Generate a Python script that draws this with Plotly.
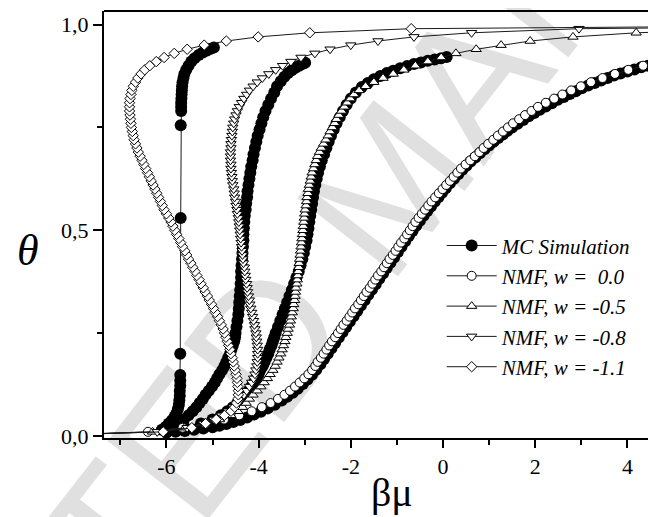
import plotly.graph_objects as go

# ---------------- data ----------------
# NMF curves share a uniform theta grid (coverage)
THETA = [0.005, 0.01, 0.02, 0.03, 0.04, 0.05, 0.06, 0.07, 0.08, 0.09, 0.10,
         0.11, 0.12, 0.13, 0.14, 0.15, 0.16, 0.17, 0.18, 0.19, 0.20,
         0.21, 0.22, 0.23, 0.24, 0.25, 0.26, 0.27, 0.28, 0.29, 0.30,
         0.31, 0.32, 0.33, 0.34, 0.35, 0.36, 0.37, 0.38, 0.39, 0.40,
         0.41, 0.42, 0.43, 0.44, 0.45, 0.46, 0.47, 0.48, 0.49, 0.50,
         0.51, 0.52, 0.53, 0.54, 0.55, 0.56, 0.57, 0.58, 0.59, 0.60,
         0.61, 0.62, 0.63, 0.64, 0.65, 0.66, 0.67, 0.68, 0.69, 0.70,
         0.71, 0.72, 0.73, 0.74, 0.75, 0.76, 0.77, 0.78, 0.79, 0.80,
         0.81, 0.82, 0.83, 0.84, 0.85, 0.86, 0.87, 0.88, 0.89, 0.90,
         0.91, 0.92, 0.93, 0.94, 0.95, 0.96, 0.97, 0.98, 0.99, 0.995]

NMF_W00_X = [-7.7, -6.40, -5.65, -5.15, -4.75, -4.42, -4.15, -3.93, -3.74, -3.58, -3.44,
             -3.32, -3.21, -3.11, -3.01, -2.92, -2.84, -2.77, -2.72, -2.65, -2.59,
             -2.53, -2.47, -2.41, -2.34, -2.28, -2.22, -2.16, -2.09, -2.03, -1.97,
             -1.91, -1.84, -1.78, -1.72, -1.66, -1.59, -1.53, -1.47, -1.41, -1.34,
             -1.28, -1.22, -1.16, -1.09, -1.03, -0.97, -0.91, -0.84, -0.78, -0.72,
             -0.66, -0.60, -0.53, -0.46, -0.39, -0.32, -0.25, -0.17, -0.09, -0.01,
             0.07, 0.15, 0.23, 0.31, 0.39, 0.49, 0.59, 0.69, 0.79, 0.88,
             0.98, 1.09, 1.19, 1.30, 1.41, 1.52, 1.65, 1.78, 1.92, 2.06,
             2.23, 2.41, 2.59, 2.78, 2.99, 3.21, 3.46, 3.73, 4.02, 4.34,
             4.70, 5.10]

NMF_W05_X = [-7.6, -6.30, -5.60, -5.15, -4.85, -4.60, -4.45, -4.35, -4.27, -4.20, -4.12,
             -4.03, -3.95, -3.88, -3.81, -3.75, -3.69, -3.64, -3.60, -3.56, -3.52,
             -3.49, -3.46, -3.43, -3.41, -3.38, -3.36, -3.33, -3.31, -3.29, -3.27,
             -3.25, -3.24, -3.22, -3.21, -3.20, -3.19, -3.17, -3.16, -3.15, -3.14,
             -3.13, -3.12, -3.11, -3.10, -3.09, -3.08, -3.07, -3.06, -3.05, -3.04,
             -3.03, -3.02, -3.01, -3.00, -2.99, -2.97, -2.96, -2.95, -2.93, -2.92,
             -2.90, -2.88, -2.86, -2.84, -2.81, -2.78, -2.75, -2.72, -2.68, -2.64,
             -2.59, -2.54, -2.49, -2.45, -2.40, -2.35, -2.31, -2.26, -2.20, -2.14,
             -2.08, -2.01, -1.93, -1.82, -1.68, -1.50, -1.30, -1.08, -0.85, -0.60,
             -0.33, -0.04, 0.28, 0.72, 1.26, 1.89, 2.82, 4.19, 6.80]

NMF_W08_X = [-7.5, -6.20, -5.55, -5.20, -4.97, -4.80, -4.66, -4.55, -4.46, -4.39, -4.32,
             -4.26, -4.20, -4.15, -4.11, -4.08, -4.06, -4.04, -4.03, -4.02, -4.02,
             -4.02, -4.03, -4.04, -4.05, -4.06, -4.08, -4.09, -4.11, -4.13, -4.15,
             -4.17, -4.19, -4.20, -4.22, -4.24, -4.25, -4.26, -4.28, -4.29, -4.30,
             -4.31, -4.33, -4.34, -4.35, -4.36, -4.37, -4.38, -4.39, -4.40, -4.41,
             -4.42, -4.43, -4.44, -4.46, -4.47, -4.49, -4.50, -4.52, -4.53, -4.54,
             -4.56, -4.57, -4.58, -4.59, -4.60, -4.60, -4.61, -4.61, -4.61, -4.60,
             -4.60, -4.59, -4.58, -4.57, -4.56, -4.54, -4.52, -4.49, -4.46, -4.42,
             -4.37, -4.32, -4.26, -4.20, -4.12, -4.03, -3.92, -3.78, -3.63, -3.48,
             -3.30, -3.08, -2.78, -2.45, -2.00, -1.41, -0.63, 0.62, 2.95, 8.0]

NMF_W11_X = [-7.6, -6.07, -5.45, -5.15, -4.92, -4.74, -4.60, -4.52, -4.48, -4.45, -4.44,
             -4.44, -4.45, -4.46, -4.47, -4.49, -4.51, -4.53, -4.55, -4.57, -4.60,
             -4.62, -4.65, -4.68, -4.71, -4.74, -4.77, -4.81, -4.85, -4.89, -4.94,
             -4.98, -5.02, -5.07, -5.11, -5.16, -5.20, -5.25, -5.29, -5.34, -5.38,
             -5.43, -5.47, -5.52, -5.56, -5.60, -5.65, -5.69, -5.73, -5.78, -5.82,
             -5.86, -5.90, -5.95, -6.00, -6.05, -6.09, -6.13, -6.17, -6.21, -6.25,
             -6.29, -6.33, -6.37, -6.41, -6.45, -6.49, -6.53, -6.57, -6.61, -6.64,
             -6.67, -6.70, -6.72, -6.74, -6.76, -6.77, -6.78, -6.79, -6.80, -6.80,
             -6.80, -6.79, -6.77, -6.75, -6.72, -6.67, -6.62, -6.55, -6.47, -6.36,
             -6.22, -6.05, -5.83, -5.55, -5.18, -4.70, -4.01, -2.89, -0.69, 5.5]

# Monte Carlo simulation results (beta*mu, theta), one run per w
MC_W00_X = [-6.0, -5.8, -5.6, -5.4, -5.2, -5.0, -4.85, -4.7, -4.55, -4.4, -4.25, -4.1,
            -3.95, -3.8, -3.65, -3.5, -3.38, -3.26, -3.15, -3.04, -2.94, -2.84, -2.75,
            -2.66, -2.58, -2.5, -2.42, -2.34, -2.26, -2.18, -2.1, -2.02, -1.94, -1.86,
            -1.78, -1.7, -1.62, -1.54, -1.46, -1.38, -1.3, -1.22, -1.14, -1.06, -0.98,
            -0.9, -0.82, -0.74, -0.66, -0.58, -0.5, -0.42, -0.34, -0.26, -0.18, -0.1,
            -0.02, 0.06, 0.15, 0.24, 0.33, 0.42, 0.51, 0.6, 0.7, 0.8, 0.9, 1.0, 1.1,
            1.2, 1.3, 1.4, 1.5, 1.62, 1.74, 1.86, 1.98, 2.1, 2.23, 2.36, 2.49, 2.62,
            2.75, 2.88, 3.01, 3.15, 3.29, 3.43, 3.57, 3.71, 3.85, 4.0, 4.15, 4.3, 4.45,
            4.6, 4.75, 4.9]
MC_W00_Y = [0.008, 0.010, 0.012, 0.015, 0.018, 0.021, 0.025, 0.029, 0.034, 0.039, 0.045,
            0.052, 0.059, 0.067, 0.076, 0.086, 0.095, 0.105, 0.115, 0.126, 0.137, 0.149,
            0.161, 0.174, 0.187, 0.200, 0.213, 0.226, 0.239, 0.252, 0.265, 0.278, 0.291,
            0.304, 0.317, 0.330, 0.343, 0.356, 0.369, 0.382, 0.395, 0.408, 0.421, 0.434,
            0.447, 0.460, 0.473, 0.486, 0.498, 0.511, 0.523, 0.535, 0.547, 0.558, 0.569,
            0.580, 0.591, 0.602, 0.614, 0.625, 0.636, 0.647, 0.657, 0.667, 0.677, 0.687,
            0.697, 0.706, 0.715, 0.724, 0.733, 0.742, 0.750, 0.759, 0.768, 0.777, 0.785,
            0.793, 0.801, 0.809, 0.817, 0.824, 0.831, 0.838, 0.845, 0.852, 0.858, 0.864,
            0.870, 0.876, 0.881, 0.886, 0.891, 0.896, 0.900, 0.904, 0.908, 0.912]

MC_W05_X = [-5.6, -5.25, -5.0, -4.82, -4.68, -4.56, -4.46, -4.37, -4.29, -4.22, -4.16,
            -4.1, -4.05, -4.0, -3.96, -3.91, -3.87, -3.83, -3.79, -3.76, -3.72, -3.69,
            -3.66, -3.63, -3.58, -3.53, -3.48, -3.43, -3.38, -3.33, -3.28, -3.23, -3.18,
            -3.13, -3.09, -3.05, -3.02, -2.99, -2.96, -2.94, -2.92, -2.9, -2.88, -2.86,
            -2.84, -2.82, -2.8, -2.77, -2.74, -2.71, -2.67, -2.63, -2.58, -2.53, -2.48,
            -2.43, -2.37, -2.31, -2.24, -2.17, -2.09, -2.0, -1.89, -1.76, -1.63, -1.5,
            -1.36, -1.22, -1.08, -0.93, -0.78, -0.63, -0.48, -0.33, -0.18, -0.04, 0.08]
MC_W05_Y = [0.02, 0.03, 0.04, 0.05, 0.06, 0.07, 0.08, 0.09, 0.10, 0.11, 0.12, 0.13,
            0.14, 0.15, 0.16, 0.17, 0.18, 0.19, 0.20, 0.21, 0.22, 0.23, 0.24, 0.25,
            0.265, 0.28, 0.295, 0.31, 0.325, 0.34, 0.355, 0.37, 0.385, 0.40, 0.415,
            0.43, 0.445, 0.46, 0.475, 0.49, 0.505, 0.52, 0.535, 0.55, 0.565, 0.58,
            0.595, 0.61, 0.625, 0.64, 0.655, 0.67, 0.685, 0.70, 0.715, 0.73, 0.745,
            0.76, 0.775, 0.79, 0.805, 0.82, 0.835, 0.848, 0.858, 0.867, 0.875, 0.882,
            0.888, 0.894, 0.899, 0.904, 0.908, 0.912, 0.915, 0.918, 0.921]

MC_W08_X = [-5.95, -5.76, -5.62, -5.52, -5.43, -5.35, -5.28, -5.21, -5.15, -5.08, -5.01,
            -4.95, -4.9, -4.85, -4.79, -4.74, -4.7, -4.66, -4.62, -4.59, -4.56, -4.53,
            -4.51, -4.5, -4.48, -4.46, -4.44, -4.43, -4.42, -4.41, -4.4, -4.39, -4.38,
            -4.38, -4.37, -4.36, -4.35, -4.34, -4.33, -4.33, -4.32, -4.31, -4.3, -4.28,
            -4.27, -4.25, -4.24, -4.22, -4.2, -4.18, -4.16, -4.13, -4.11, -4.08, -4.05,
            -4.02, -3.98, -3.94, -3.9, -3.85, -3.79, -3.73, -3.66, -3.6, -3.52, -3.44,
            -3.36, -3.28, -3.2, -3.12, -3.05, -2.99]
MC_W08_Y = [0.02, 0.03, 0.04, 0.05, 0.06, 0.07, 0.08, 0.09, 0.10, 0.11, 0.12, 0.13,
            0.14, 0.15, 0.16, 0.17, 0.18, 0.19, 0.20, 0.21, 0.22, 0.23, 0.24, 0.25,
            0.265, 0.28, 0.295, 0.31, 0.325, 0.34, 0.355, 0.37, 0.385, 0.40, 0.415,
            0.43, 0.445, 0.46, 0.475, 0.49, 0.505, 0.52, 0.535, 0.55, 0.565, 0.58,
            0.595, 0.61, 0.625, 0.64, 0.655, 0.67, 0.685, 0.70, 0.715, 0.73, 0.745,
            0.76, 0.775, 0.79, 0.805, 0.82, 0.835, 0.85, 0.862, 0.873, 0.882, 0.889,
            0.895, 0.90, 0.904, 0.907]

MC_W11_X = [-6.10, -6.02, -5.95, -5.88, -5.82, -5.78, -5.75, -5.73, -5.72, -5.71, -5.71,
            -5.70, -5.70, -5.70, -5.70, -5.69, -5.69, -5.68, -5.68, -5.68, -5.675, -5.67,
            -5.665, -5.66, -5.65, -5.63, -5.61, -5.57, -5.52, -5.46, -5.39, -5.30, -5.21,
            -5.12, -5.04, -4.97]
MC_W11_Y = [0.015, 0.022, 0.030, 0.038, 0.047, 0.056, 0.066, 0.076, 0.087, 0.098, 0.110,
            0.122, 0.135, 0.148, 0.200, 0.530, 0.755, 0.790, 0.800, 0.810, 0.820, 0.830,
            0.840, 0.850, 0.860, 0.870, 0.880, 0.890, 0.900, 0.910, 0.918, 0.926, 0.932,
            0.937, 0.941, 0.944]

SERIES_NAMES = ["<i>MC Simulation</i>",
                "<i>NMF, w =\u00a0\u00a00.0</i>",
                "<i>NMF, w = -0.5</i>",
                "<i>NMF, w = -0.8</i>",
                "<i>NMF, w = -1.1</i>"]

X_TICK_VALS = [-6, -4, -2, 0, 2, 4]
X_TICK_TEXT = ["-6", "-4", "-2", "0", "2", "4"]
X_MINOR_VALS = [-7, -5, -3, -1, 1, 3]
Y_TICK_VALS = [0.0, 0.5, 1.0]
Y_TICK_TEXT = ["0,0", "0,5", "1,0"]
Y_MINOR_VALS = [0.25, 0.75]

# ---------------- figure ----------------
SERIF = "Liberation Serif"
LINE_COL = "#1a1a1a"

fig = go.Figure()

mc_sets = [(MC_W11_X, MC_W11_Y), (MC_W08_X, MC_W08_Y),
           (MC_W05_X, MC_W05_Y), (MC_W00_X, MC_W00_Y)]
for i, (mx, my) in enumerate(mc_sets):
    fig.add_trace(go.Scatter(
        x=mx, y=my, mode="lines+markers",
        name=SERIES_NAMES[0], legendgroup="mc", showlegend=(i == 0),
        line=dict(color=LINE_COL, width=1),
        marker=dict(symbol="circle", size=12, color="black",
                    line=dict(width=0))))

nmf_sets = [(NMF_W00_X, "circle", 9, SERIES_NAMES[1]),
            (NMF_W05_X, "triangle-up", 9, SERIES_NAMES[2]),
            (NMF_W08_X, "triangle-down", 9, SERIES_NAMES[3]),
            (NMF_W11_X, "diamond", 8, SERIES_NAMES[4])]
for k, (nx, sym, sz, nm) in enumerate(nmf_sets):
    fig.add_trace(go.Scatter(
        x=nx, y=THETA[:len(nx)], mode="lines+markers", name=nm,
        line=dict(color=LINE_COL, width=1),
        marker=dict(symbol=sym, size=sz, color="white",
                    line=dict(color="black", width=1))))

fig.update_layout(
    width=656, height=517,
    margin=dict(l=96, r=0, t=3, b=87),
    paper_bgcolor="white", plot_bgcolor="white",
    font=dict(family=SERIF, size=22, color="black"),
    showlegend=True,
    legend=dict(x=0.603, y=0.498, xanchor="left", yanchor="top",
                bgcolor="rgba(0,0,0,0)", borderwidth=0,
                font=dict(family=SERIF, size=21, color="black"),
                tracegroupgap=0, itemwidth=50),
    xaxis=dict(range=[-7.354, 4.794], showgrid=False, zeroline=False,
               showline=True, linecolor="black", linewidth=2,
               ticks="outside", ticklen=8, tickwidth=1.5, tickcolor="black",
               tickvals=X_TICK_VALS, ticktext=X_TICK_TEXT,
               tickfont=dict(family=SERIF, size=22),
               minor=dict(tickvals=X_MINOR_VALS, ticks="outside", ticklen=5,
                          tickwidth=1.5, tickcolor="black")),
    yaxis=dict(range=[-0.005, 1.033], showgrid=False, zeroline=False,
               showline=True, linecolor="black", linewidth=2,
               ticks="outside", ticklen=9, tickwidth=1.5, tickcolor="black",
               tickvals=Y_TICK_VALS, ticktext=Y_TICK_TEXT,
               tickfont=dict(family=SERIF, size=22),
               minor=dict(tickvals=Y_MINOR_VALS, ticks="outside", ticklen=5,
                          tickwidth=1.5, tickcolor="black")),
)

# top frame line
fig.add_shape(type="line", xref="paper", yref="paper", x0=0, x1=1, y0=1, y1=1,
              line=dict(color="black", width=2))

# watermark (behind the data)
fig.add_shape(type="line", xref="paper", yref="paper", layer="below",
              x0=0.412, y0=0.098, x1=0.852, y1=0.838,
              line=dict(color="rgba(0,0,0,0)", width=0),
              label=dict(text="ACCEPTED MANUSCRIPT", textposition="middle",
                         font=dict(family="Liberation Sans",
                                   size=185, color="rgb(224,224,224)")))

# axis titles
fig.add_annotation(text="\u03b2\u03bc", xref="paper", yref="paper",
                   x=0.515, y=-0.128, xanchor="center", yanchor="middle",
                   showarrow=False, font=dict(family=SERIF, size=40))
fig.add_annotation(text="<i>\u03b8</i>", xref="paper", yref="paper",
                   x=-0.135, y=0.44, xanchor="center", yanchor="middle",
                   showarrow=False, font=dict(family=SERIF, size=44))

fig.write_html("out.html")
